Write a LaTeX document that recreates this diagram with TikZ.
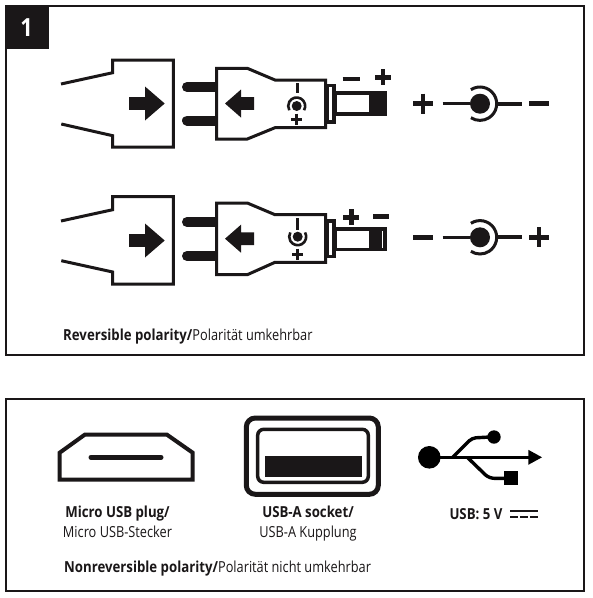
\documentclass[tikz,border=0pt]{standalone}
\usepackage{fontspec}
\setmainfont{Open Sans}[FakeStretch=0.84,BoldFeatures={FakeStretch=0.87}]
\definecolor{ink}{HTML}{1A1718}
\newcommand{\regularsize}{\fontsize{15.2}{17}\selectfont}
\tikzset{
  frame/.style={draw=ink,line width=2pt,fill=white},
  outline/.style={draw=ink,line width=3pt,line join=miter},
  solid/.style={fill=ink,draw=none},
  bar/.style={draw=ink,line width=#1},
  bar/.default=4.5pt,
  caption/.style={inner sep=0pt,text=ink,font=\regularsize}
}
\newcommand{\blockarrow}[5]{\fill[solid] (#1,#4-6.4) -- (#2,#4-6.4) -- (#2,#4-#5) -- (#3,#4) -- (#2,#4+#5) -- (#2,#4+6.4) -- (#1,#4+6.4) -- cycle;}
\newcommand{\plusmark}[3]{\draw[bar] (#1-#3,#2) -- (#1+#3,#2) (#1,#2-#3) -- (#1,#2+#3);}
\begin{document}
\begin{tikzpicture}[x=1pt,y=-1pt]
\useasboundingbox (0,0) rectangle (593,598);
\fill[white] (0,0) rectangle (593,598);
% panels
\draw[frame] (6,6) rectangle (584,355);
\draw[frame] (6,399) rectangle (584,591);
\fill[ink] (5,5) rectangle (49,49);
\node[text=white,font=\fontsize{25}{25}\selectfont\bfseries,inner sep=0pt] (badge) at (26.5,27.5) {1};
% ---------- row 1
\draw[outline] (61,84) -- (112.7,72.7) -- (112.7,60) -- (173.3,60) -- (173.3,147) -- (112.7,147) -- (112.7,135.7) -- (61.3,124);
\blockarrow{129}{145}{164.7}{103.5}{17}
\draw[ink,line width=10pt,line cap=round] (187,87) -- (217,87) (187,120.5) -- (217,120.5);
\draw[outline,fill=white] (216.7,68.3) -- (247.3,68.3) -- (275,80) -- (325.7,80) -- (325.7,127.7) -- (275,127.7) -- (247.3,139) -- (216.7,139) -- cycle;
\blockarrow{254}{241}{225}{103.5}{14}
\draw[bar=3pt] (297,83.3) -- (297,93.3);
\fill[ink] (296.7,106) circle (5pt);
\draw[ink,line width=2.6pt] (296.7,106) ++(-30:8.5pt) arc (-30:210:8.5pt);
\draw[bar=3pt] (291,119.3) -- (302.4,119.3) (296.7,113.6) -- (296.7,125);
\draw[ink,line width=3.5pt] (327,85.5) rectangle (334,122);
\draw[ink,line width=3.5pt] (335.7,93) rectangle (385,114);
\fill[ink] (369,91.3) rectangle (386.7,115.7);
\draw[bar] (342.7,79) -- (360,79);
\plusmark{383}{77.3}{8}
\plusmark{423}{103.7}{10}
\draw[bar=3.2pt] (442.7,103.7) -- (470,103.7);
\fill[ink] (480,103.7) circle (10pt);
\draw[ink,line width=3pt] (480,103.7) ++(123:16.7pt) arc (123:-123:16.7pt);
\draw[bar=4pt] (497.7,103.7) -- (522,103.7);
\draw[bar] (529,103.7) -- (548.7,103.7);
% ---------- row 2
\draw[outline] (61,221) -- (112.7,209.7) -- (112.7,196.7) -- (173.3,196.7) -- (173.3,284) -- (112.7,284) -- (112.7,272) -- (61.3,260.7);
\blockarrow{129}{145}{164.7}{240.5}{17}
\draw[ink,line width=10pt,line cap=round] (187,222) -- (217,222) (187,256) -- (217,256);
\draw[outline,fill=white] (216.7,203) -- (247.3,203) -- (275,214.7) -- (325.7,214.7) -- (325.7,262.3) -- (275,262.3) -- (247.3,274.7) -- (216.7,274.7) -- cycle;
\blockarrow{254}{241}{225}{238.7}{14}
\draw[bar=3pt] (297.7,218.3) -- (297.7,230);
\fill[ink] (297.7,236.7) circle (5pt);
\draw[ink,line width=2.6pt] (297.7,236.7) ++(30:8.5pt) arc (30:-210:8.5pt);
\draw[bar=3pt] (292,254.3) -- (303.4,254.3) (297.7,248.6) -- (297.7,260);
\draw[ink,line width=3.5pt] (327,221) rectangle (334,256.6);
\draw[ink,line width=3.5pt] (335.7,229) rectangle (385,249.6);
\fill[ink] (369,227.3) rectangle (381.5,251.3);
\plusmark{351.3}{217.3}{8}
\draw[bar] (373,216.7) -- (389,216.7);
\draw[bar] (413.3,237.3) -- (433.3,237.3);
\draw[bar=3.2pt] (442.7,237.3) -- (470,237.3);
\fill[ink] (480,237.3) circle (10pt);
\draw[ink,line width=3pt] (480,237.3) ++(123:16.7pt) arc (123:-123:16.7pt);
\draw[bar=4pt] (497.7,237.3) -- (522,237.3);
\plusmark{539}{237.3}{10}
% ---------- captions
\node[caption,anchor=base west] (cap1) at (63,340) {\textbf{Reversible polarity/}Polarität umkehrbar};
\node[caption,anchor=base west] (cap2) at (64,572.7) {\textbf{Nonreversible polarity/}Polarität nicht umkehrbar};
\node[caption,anchor=base] (m1) at (117.5,517.3) {\textbf{Micro USB plug/}};
\node[caption,anchor=base] (m2) at (117.5,537.7) {Micro USB-Stecker};
\node[caption,anchor=base] (a1) at (308,517.3) {\textbf{USB-A socket/}};
\node[caption,anchor=base] (a2) at (308,537.7) {USB-A Kupplung};
\node[caption,anchor=base west] (v) at (449.3,519) {\textbf{USB: 5 V}};
% ---------- micro USB
\draw[ink,line width=4pt,line join=miter] (59.7,479.7) -- (59.7,452.7) -- (85,434.5) -- (166.7,434.5) -- (192.7,452.7) -- (192.7,479.7) -- cycle;
\draw[ink,line width=5pt,line cap=round] (91,457.3) -- (161,457.3);
% ---------- USB-A
\draw[ink,line width=5pt,rounded corners=9pt] (246.3,418) rectangle (378.3,494.3);
\draw[ink,line width=3.5pt,rounded corners=6pt] (257.7,429.3) rectangle (368.3,482.3);
\fill[ink] (265,456) rectangle (362.3,477.3);
% ---------- USB trident
\fill[black] (429.3,457.3) circle (11.3pt);
\draw[black,line width=3.6pt] (429.3,457.3) -- (529,457.3);
\fill[black] (528.3,449.8) -- (542,457.3) -- (528.3,464.8) -- cycle;
\draw[black,line width=3.4pt,rounded corners=4pt] (452.7,457.3) -- (472,438) -- (490,437);
\fill[black] (494,437) circle (6.7pt);
\draw[black,line width=3.4pt,rounded corners=5pt] (467.3,457.3) -- (489,478.3) -- (506,478.3);
\fill[black] (504,471) rectangle (518,484.7);
% DC symbol
\draw[ink,line width=1.7pt] (510,511) -- (537.7,511);
\draw[ink,line width=1.7pt] (510,517.3) -- (517.5,517.3) (520,517.3) -- (527.5,517.3) (530,517.3) -- (537.7,517.3);
\end{tikzpicture}
\end{document}
